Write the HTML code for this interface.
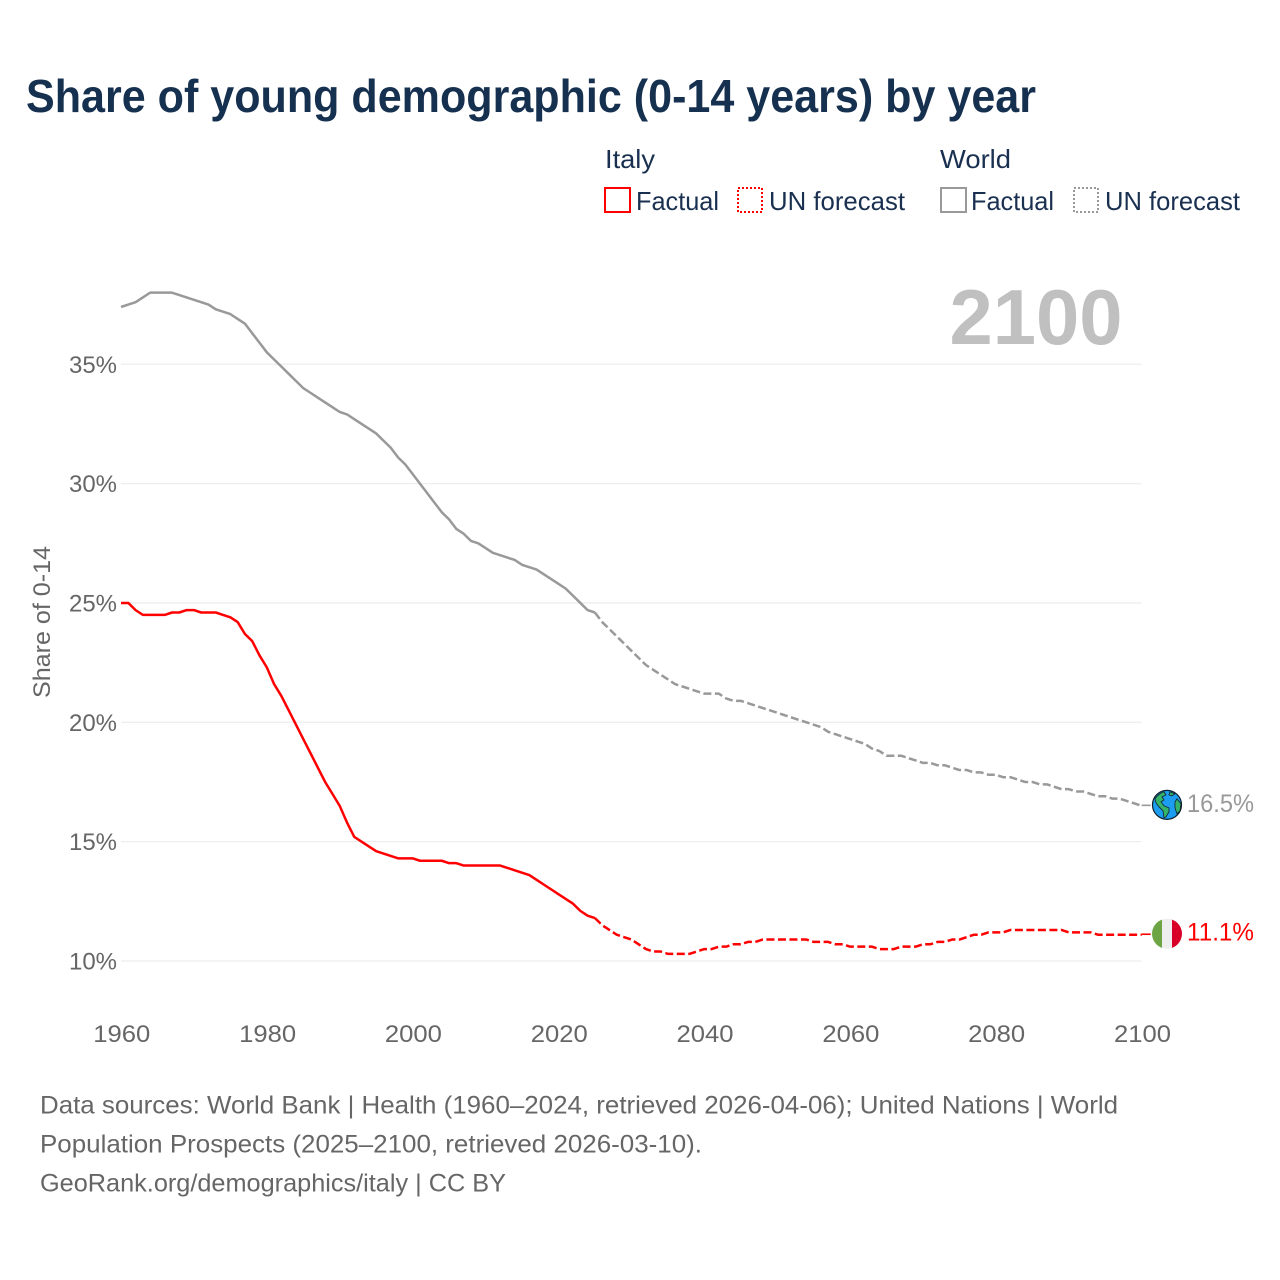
<!DOCTYPE html>
<html lang="en">
<head>
<meta charset="utf-8">
<title>Share of young demographic (0-14 years) by year</title>
<style>
  html, body { margin: 0; padding: 0; background: #fff; }
  svg { display: block; }
  text { font-family: "Liberation Sans", sans-serif; }
</style>
</head>
<body>
<svg id="chart" xmlns="http://www.w3.org/2000/svg" width="1280" height="1280" viewBox="0 0 1280 1280">
  <rect width="1280" height="1280" fill="#ffffff"/>
  <text x="26" y="112" font-size="46" font-weight="700" fill="#16304f" textLength="1010" lengthAdjust="spacingAndGlyphs">Share of young demographic (0-14 years) by year</text>

  <g font-size="26" fill="#1a3050">
    <text x="605" y="168" textLength="50" lengthAdjust="spacingAndGlyphs">Italy</text>
    <text x="940" y="168" textLength="71" lengthAdjust="spacingAndGlyphs">World</text>
    <rect x="605" y="188" width="25" height="24" fill="none" stroke="#ff0000" stroke-width="2"/>
    <text x="636" y="210" textLength="83" lengthAdjust="spacingAndGlyphs">Factual</text>
    <rect x="738" y="188" width="24" height="24" fill="none" stroke="#ff0000" stroke-width="2" stroke-dasharray="2 2"/>
    <text x="769" y="210" textLength="136" lengthAdjust="spacingAndGlyphs">UN forecast</text>
    <rect x="941" y="188" width="25" height="24" fill="none" stroke="#999999" stroke-width="2"/>
    <text x="971" y="210" textLength="83" lengthAdjust="spacingAndGlyphs">Factual</text>
    <rect x="1074" y="188" width="24" height="24" fill="none" stroke="#999999" stroke-width="2" stroke-dasharray="2 2"/>
    <text x="1105" y="210" textLength="135" lengthAdjust="spacingAndGlyphs">UN forecast</text>
  </g>

  <text x="949.5" y="344" font-size="78" font-weight="700" fill="#c0c0c0" textLength="173" lengthAdjust="spacingAndGlyphs">2100</text>
  <text transform="translate(50 622) rotate(-90)" text-anchor="middle" font-size="24" fill="#666666" textLength="152" lengthAdjust="spacingAndGlyphs">Share of 0-14</text>

  <g id="grid"></g>
  <g id="yticks"></g>
  <g id="xticks"></g>
  <g id="series"></g>

  <g id="world-end">
    <g id="globe-icon">
      <circle cx="0" cy="0" r="14.5" fill="#1c9df0" stroke="#10202c" stroke-width="1.2"/>
      <path d="M-12 -6 C-8 -12 -3 -13 -3 -13 L-1 -10 L-5 -8 L-3 -5 L-6 -3 L-3 1 L2 3 L2 7 L-1 12 L-3 13 L-4 6 L-8 2 L-11 -2 Z" fill="#34b36a" stroke="#10202c" stroke-width="0.8"/>
      <path d="M3 -13 L8 -11 L5 -9 L2 -10 Z" fill="#34b36a" stroke="#10202c" stroke-width="0.8"/>
      <path d="M10 -6 L14 -1 L13 6 L10 9 L8 3 L8 -3 Z" fill="#34b36a" stroke="#10202c" stroke-width="0.8"/>
    </g>
    <text id="world-end-label" font-size="25" fill="#999999" textLength="67" lengthAdjust="spacingAndGlyphs"></text>
  </g>
  <g id="italy-end">
    <g id="italy-flag">
      <clipPath id="flag-clip"><circle cx="0" cy="0" r="15"/></clipPath>
      <g clip-path="url(#flag-clip)">
        <rect x="-15" y="-15" width="10" height="30" fill="#6da544"/>
        <rect x="-5" y="-15" width="10" height="30" fill="#eeeeee"/>
        <rect x="5" y="-15" width="10" height="30" fill="#d80027"/>
      </g>
    </g>
    <text id="italy-end-label" font-size="25" fill="#ff0000" textLength="67" lengthAdjust="spacingAndGlyphs"></text>
  </g>

  <g font-size="25" fill="#666666">
    <text x="40" y="1113.5" textLength="1078" lengthAdjust="spacingAndGlyphs">Data sources: World Bank | Health (1960–2024, retrieved 2026-04-06); United Nations | World</text>
    <text x="40" y="1152.5" textLength="662" lengthAdjust="spacingAndGlyphs">Population Prospects (2025–2100, retrieved 2026-03-10).</text>
    <text x="40" y="1191.5" textLength="466" lengthAdjust="spacingAndGlyphs">GeoRank.org/demographics/italy | CC BY</text>
  </g>
</svg>

<script>
const xTickYears = [1960, 1980, 2000, 2020, 2040, 2060, 2080, 2100];
const yTickValues = [10, 15, 20, 25, 30, 35];
const factualStartYear = 1960;
const forecastStartYear = 2025;

const italyFactual = [
  25.0, 25.0, 24.7, 24.5, 24.5, 24.5, 24.5, 24.6, 24.6, 24.7,
  24.7, 24.6, 24.6, 24.6, 24.5, 24.4, 24.2, 23.7, 23.4, 22.8,
  22.3, 21.6, 21.1, 20.5, 19.9, 19.3, 18.7, 18.1, 17.5, 17.0,
  16.5, 15.8, 15.2, 15.0, 14.8, 14.6, 14.5, 14.4, 14.3, 14.3,
  14.3, 14.2, 14.2, 14.2, 14.2, 14.1, 14.1, 14.0, 14.0, 14.0,
  14.0, 14.0, 14.0, 13.9, 13.8, 13.7, 13.6, 13.4, 13.2, 13.0,
  12.8, 12.6, 12.4, 12.1, 11.9, 11.8
];

const italyForecast = [
  11.8, 11.5, 11.3, 11.1, 11.0, 10.9, 10.7, 10.5, 10.4, 10.4,
  10.3, 10.3, 10.3, 10.3, 10.4, 10.5, 10.5, 10.6, 10.6, 10.7,
  10.7, 10.8, 10.8, 10.9, 10.9, 10.9, 10.9, 10.9, 10.9, 10.9,
  10.8, 10.8, 10.8, 10.7, 10.7, 10.6, 10.6, 10.6, 10.6, 10.5,
  10.5, 10.5, 10.6, 10.6, 10.6, 10.7, 10.7, 10.8, 10.8, 10.9,
  10.9, 11.0, 11.1, 11.1, 11.2, 11.2, 11.2, 11.3, 11.3, 11.3,
  11.3, 11.3, 11.3, 11.3, 11.3, 11.2, 11.2, 11.2, 11.2, 11.1,
  11.1, 11.1, 11.1, 11.1, 11.1, 11.1
];

const worldFactual = [
  37.4, 37.5, 37.6, 37.8, 38.0, 38.0, 38.0, 38.0, 37.9, 37.8,
  37.7, 37.6, 37.5, 37.3, 37.2, 37.1, 36.9, 36.7, 36.3, 35.9,
  35.5, 35.2, 34.9, 34.6, 34.3, 34.0, 33.8, 33.6, 33.4, 33.2,
  33.0, 32.9, 32.7, 32.5, 32.3, 32.1, 31.8, 31.5, 31.1, 30.8,
  30.4, 30.0, 29.6, 29.2, 28.8, 28.5, 28.1, 27.9, 27.6, 27.5,
  27.3, 27.1, 27.0, 26.9, 26.8, 26.6, 26.5, 26.4, 26.2, 26.0,
  25.8, 25.6, 25.3, 25.0, 24.7, 24.6
];

const worldForecast = [
  24.6, 24.2, 23.9, 23.6, 23.3, 23.0, 22.7, 22.4, 22.2, 22.0,
  21.8, 21.6, 21.5, 21.4, 21.3, 21.2, 21.2, 21.2, 21.0, 20.9,
  20.9, 20.8, 20.7, 20.6, 20.5, 20.4, 20.3, 20.2, 20.1, 20.0,
  19.9, 19.8, 19.6, 19.5, 19.4, 19.3, 19.2, 19.1, 18.9, 18.8,
  18.6, 18.6, 18.6, 18.5, 18.4, 18.3, 18.3, 18.2, 18.2, 18.1,
  18.0, 18.0, 17.9, 17.9, 17.8, 17.8, 17.7, 17.7, 17.6, 17.5,
  17.5, 17.4, 17.4, 17.3, 17.2, 17.2, 17.1, 17.1, 17.0, 16.9,
  16.9, 16.8, 16.8, 16.7, 16.6, 16.5
];

const SVG_NS = 'http://www.w3.org/2000/svg';
const X_LEFT = 121, X_RIGHT = 1141.7, Y_AT_10 = 961, PX_PER_PCT = 23.87;
function xScale(year) { return X_LEFT + (year - 1960) * (X_RIGHT - X_LEFT) / 140; }
function yScale(pct) { return Y_AT_10 - (pct - 10) * PX_PER_PCT; }

function buildPath(values, startYear) {
  return values.map(function (v, i) {
    return (i ? 'L' : 'M') + xScale(startYear + i).toFixed(2) + ' ' + yScale(v).toFixed(2);
  }).join(' ');
}

const grid = document.getElementById('grid');
const yticks = document.getElementById('yticks');
const xticks = document.getElementById('xticks');
const series = document.getElementById('series');

yTickValues.forEach(function (v) {
  const line = document.createElementNS(SVG_NS, 'line');
  
  
  line.setAttribute('x1', X_LEFT);
  line.setAttribute('x2', X_RIGHT);
  line.setAttribute('y1', yScale(v));
  line.setAttribute('y2', yScale(v));
  line.setAttribute('stroke', '#eeeeee');
  line.setAttribute('stroke-width', '1.3');
  grid.appendChild(line);

  const label = document.createElementNS(SVG_NS, 'text');
  
  
  label.setAttribute('x', 117);
  label.setAttribute('y', yScale(v) + 8.5);
  label.setAttribute('text-anchor', 'end');
  label.setAttribute('font-size', '24');
  label.setAttribute('fill', '#666666');
  label.setAttribute('textLength', '48');
  label.setAttribute('lengthAdjust', 'spacingAndGlyphs');
  label.textContent = v + '%';
  yticks.appendChild(label);
});

xTickYears.forEach(function (year) {
  const label = document.createElementNS(SVG_NS, 'text');
  
  
  label.setAttribute('x', xScale(year) + 0.8);
  label.setAttribute('y', 1042);
  label.setAttribute('text-anchor', 'middle');
  label.setAttribute('font-size', '24');
  label.setAttribute('fill', '#666666');
  label.setAttribute('textLength', '57');
  label.setAttribute('lengthAdjust', 'spacingAndGlyphs');
  label.textContent = String(year);
  xticks.appendChild(label);
});

function addLine(name, values, startYear, color, width, dash) {
  const p = document.createElementNS(SVG_NS, 'path');
  
  
  p.setAttribute('d', buildPath(values, startYear));
  p.setAttribute('fill', 'none');
  p.setAttribute('stroke', color);
  p.setAttribute('stroke-width', width);
  p.setAttribute('stroke-linejoin', 'round');
  if (dash) p.setAttribute('stroke-dasharray', dash);
  series.appendChild(p);
}

addLine('world-factual-line', worldFactual, factualStartYear, '#999999', 2.5);
addLine('world-forecast-line', worldForecast, forecastStartYear, '#999999', 2.5, '8 3.5');
addLine('italy-factual-line', italyFactual, factualStartYear, '#ff0000', 2.5);
addLine('italy-forecast-line', italyForecast, forecastStartYear, '#ff0000', 2.5, '8 3.5');

function placeEnd(prefix, iconId, values, color) {
  const last = values[values.length - 1];
  const y = yScale(last);
  const connector = document.createElementNS(SVG_NS, 'line');
  
  
  connector.setAttribute('x1', X_RIGHT);
  connector.setAttribute('x2', X_RIGHT + 9);
  connector.setAttribute('y1', y - 0.5);
  connector.setAttribute('y2', y - 0.5);
  connector.setAttribute('stroke', color);
  connector.setAttribute('stroke-width', '1.6');
  series.appendChild(connector);
  document.getElementById(iconId).setAttribute('transform', 'translate(1167 ' + (y - 1) + ')');
  const label = document.getElementById(prefix + '-end-label');
  label.setAttribute('x', 1187);
  label.setAttribute('y', y + 6);
  label.textContent = last.toFixed(1) + '%';
}
placeEnd('world', 'globe-icon', worldForecast, '#999999');
placeEnd('italy', 'italy-flag', italyForecast, '#ff0000');
</script>
</body>
</html>
